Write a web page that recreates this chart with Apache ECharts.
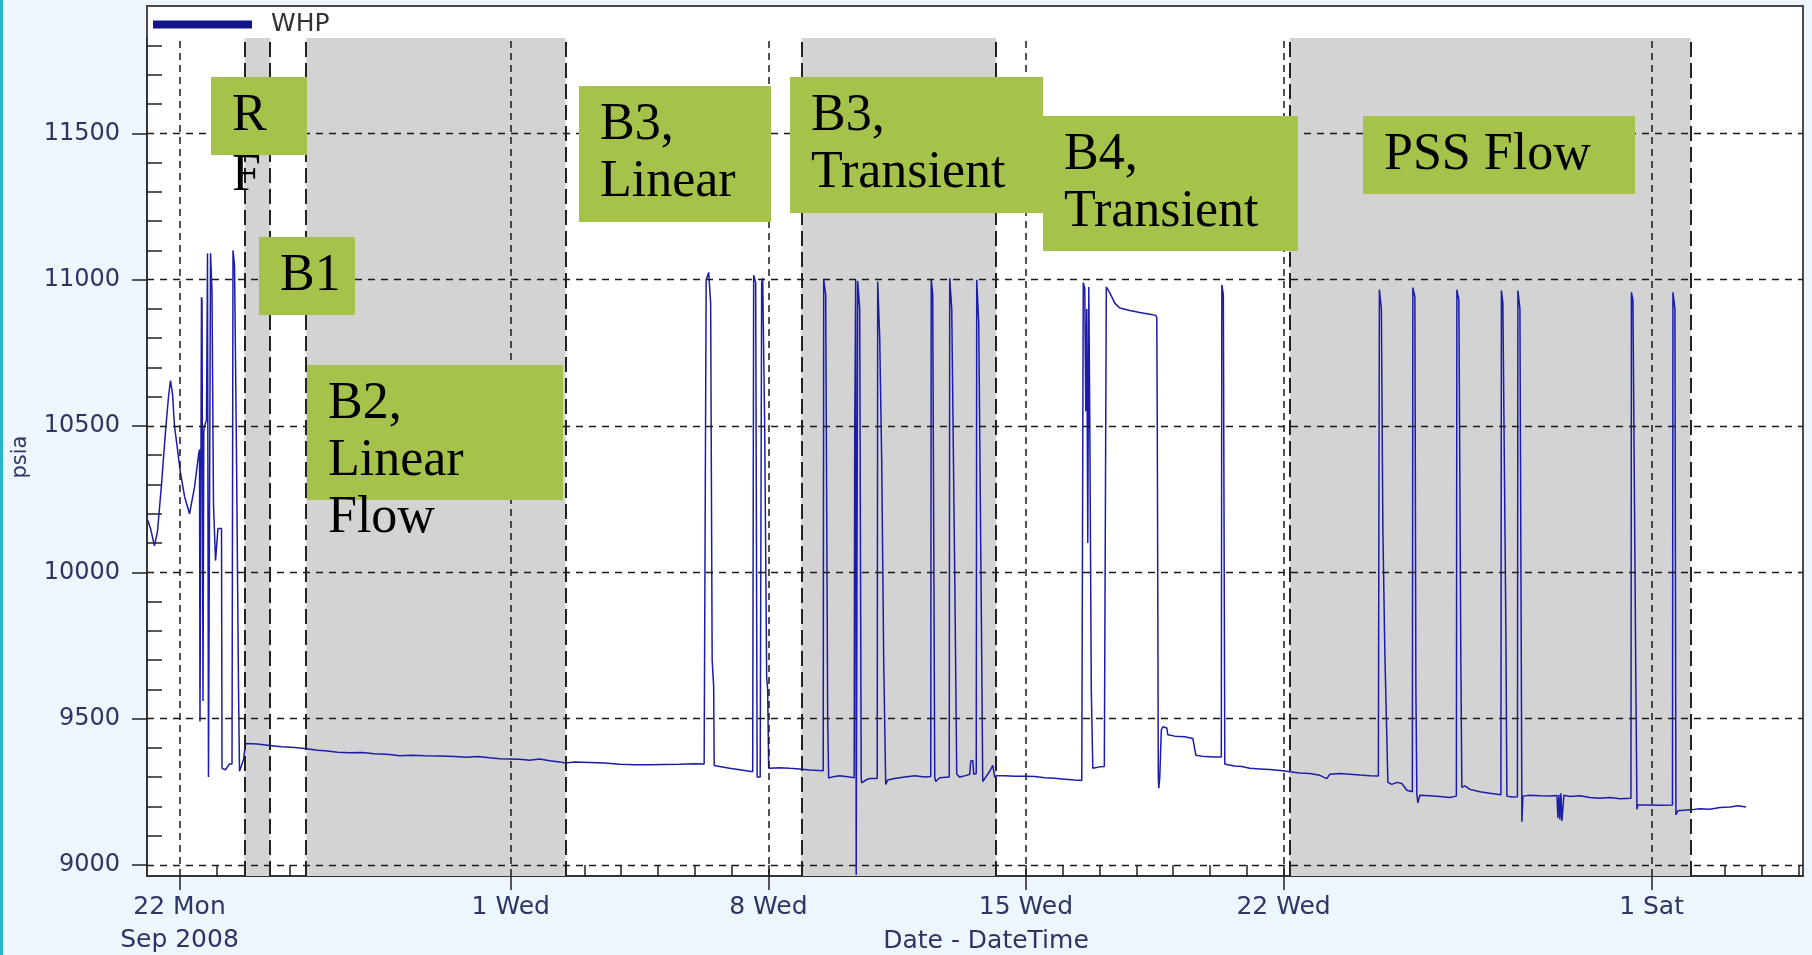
<!DOCTYPE html>
<html><head><meta charset="utf-8">
<script src="https://cdn.jsdelivr.net/npm/echarts@6/dist/echarts.min.js"></script>
<style>html,body{margin:0;padding:0;background:#eef6fd}#c{width:1812px;height:955px}</style>
</head><body><div id="c"></div><script>
// Time is stored as days since 22 Sep 2008 00:00
const BASE = Date.UTC(2008, 8, 22);
const DAY = 86400000;

// WHP (psia) readings: [day, psia]
const whpStartup = [[-0.870,10180],[-0.788,10150],[-0.680,10090],[-0.598,10140],[-0.489,10300],[-0.381,10480],[-0.299,10600],[-0.245,10655],[-0.190,10610],[-0.136,10500],[-0.054,10420],[0.027,10340],[0.136,10260],[0.272,10200],[0.408,10290],[0.516,10400],[0.544,10420],[0.557,9490],[0.584,9490],[0.598,10940],[0.612,10930],[0.639,9560],[0.660,10480],[0.680,10500],[0.734,10520],[0.761,11090],[0.788,9300],[0.829,9300],[0.843,11090],[0.883,10960],[0.924,10230],[0.965,10230],[0.979,10040],[1.033,10040],[1.046,10150],[1.142,10150],[1.155,9330],[1.250,9325],[1.359,9345],[1.427,9345],[1.454,11100],[1.495,11050],[1.549,10400],[1.604,9600],[1.631,9320],[1.685,9320],[1.740,9360],[1.794,9415]];
const whpB2 = [[2.120,9413],[2.446,9408],[2.772,9404],[3.126,9401],[3.398,9398],[3.751,9392],[4.023,9389],[4.295,9385],[4.621,9383],[4.947,9384],[5.300,9380],[5.708,9377],[5.980,9373],[6.306,9375],[6.659,9373],[7.067,9372],[7.475,9370],[7.801,9368],[8.100,9370],[8.426,9366],[8.698,9363],[8.970,9362],[9.242,9361],[9.513,9358],[9.785,9362],[10.057,9356],[10.329,9352],[10.492,9348],[10.736,9352],[11.144,9350],[11.552,9348],[11.960,9344],[12.367,9342],[12.775,9342],[13.183,9343],[13.591,9344],[13.998,9346],[14.256,9345]];
const whpB3Linear = [[14.311,11000],[14.379,11025],[14.433,10920],[14.474,9700],[14.501,9640],[14.515,9610],[14.529,9340],[14.678,9336],[14.950,9330],[15.221,9325],[15.575,9318],[15.602,11015],[15.656,10990],[15.697,9300],[15.779,9300],[15.819,10990],[15.847,11005],[15.901,10500],[15.955,9640],[15.982,9600],[16.010,9330],[16.309,9332],[16.580,9330],[16.852,9328],[17.124,9324],[17.491,9322]];
const whpB3Transient = [[17.505,11000],[17.559,10950],[17.613,9500],[17.640,9297],[17.722,9300],[17.939,9305],[18.211,9300],[18.333,9298],[18.347,10460],[18.374,11000],[18.388,8965],[18.415,8965],[18.429,10995],[18.483,10900],[18.524,9300],[18.537,9280],[18.646,9290],[18.755,9295],[18.959,9295],[18.972,10993],[19.027,10800],[19.081,10380],[19.135,9700],[19.190,9275],[19.244,9290],[19.434,9295],[19.706,9300],[19.978,9305],[20.250,9300],[20.413,9302],[20.427,11000],[20.467,10950],[20.494,10145],[20.522,9300],[20.549,9285],[20.658,9298],[20.916,9300],[20.929,11005],[20.984,10900],[21.065,10000],[21.120,9310],[21.201,9300],[21.364,9305],[21.473,9310],[21.500,9355],[21.555,9357],[21.582,9310],[21.650,9312],[21.663,11000],[21.718,10850],[21.799,9700],[21.826,9285],[21.908,9300],[22.017,9320],[22.098,9340],[22.152,9300],[22.207,9305]];
const whpB4Transient = [[22.424,9305],[22.696,9303],[22.995,9303],[23.240,9302],[23.512,9298],[23.783,9296],[24.055,9293],[24.327,9290],[24.517,9288],[24.544,9285],[24.558,10990],[24.599,10970],[24.626,10550],[24.653,10900],[24.680,10100],[24.708,10975],[24.735,10520],[24.776,9600],[24.817,9330],[24.871,9332],[25.007,9335],[25.130,9336],[25.184,10975],[25.279,10955],[25.414,10920],[25.550,10903],[25.822,10895],[26.094,10888],[26.366,10882],[26.529,10878],[26.556,10870],[26.569,10500],[26.597,9300],[26.610,9262],[26.637,9300],[26.678,9460],[26.719,9472],[26.773,9470],[26.828,9468],[26.855,9445],[27.045,9440],[27.317,9438],[27.534,9432],[27.616,9375],[27.861,9370],[28.132,9369],[28.309,9369],[28.323,10982],[28.364,10950],[28.404,9345],[28.486,9342],[28.676,9338],[28.866,9336],[29.084,9330],[29.356,9328],[29.627,9326],[29.981,9322]];
const whpPSS = [[30.171,9318],[30.443,9314],[30.715,9312],[30.986,9306],[31.177,9295],[31.258,9310],[31.530,9312],[31.802,9310],[32.074,9307],[32.345,9305],[32.576,9304],[32.604,10966],[32.658,10900],[32.699,10145],[32.753,9724],[32.835,9282],[32.943,9275],[33.079,9282],[33.215,9278],[33.351,9255],[33.500,9250],[33.514,10973],[33.569,10940],[33.596,9600],[33.623,9240],[33.650,9212],[33.704,9238],[33.976,9236],[34.248,9234],[34.520,9230],[34.696,9235],[34.710,10966],[34.764,10930],[34.818,9700],[34.845,9265],[34.927,9270],[35.063,9258],[35.335,9250],[35.607,9245],[35.906,9240],[35.920,10963],[35.960,10920],[36.042,9800],[36.069,9235],[36.205,9232],[36.355,9233],[36.368,10963],[36.423,10900],[36.477,9147],[36.504,9235],[36.694,9238],[36.966,9236],[37.238,9235],[37.429,9237],[37.456,9160],[37.483,9240],[37.510,9155],[37.537,9245],[37.564,9150],[37.618,9238],[37.781,9234],[38.053,9236],[38.325,9230],[38.597,9228],[38.869,9230],[39.141,9226],[39.440,9228],[39.453,10957],[39.494,10930],[39.575,9600],[39.603,9190],[39.630,9205],[39.956,9205],[40.228,9204],[40.568,9205],[40.581,10957],[40.635,10900],[40.662,9171],[40.717,9185],[41.043,9188],[41.315,9192],[41.587,9190],[41.859,9196],[42.130,9198],[42.348,9202],[42.565,9198]];

// Axis ticks
const majorTickDays = [0, 9, 16, 23, 30, 40];
const majorTickLabels = ['22 Mon\nSep 2008', '1 Wed', '8 Wed', '15 Wed', '22 Wed', '1 Sat'];
const dailyTickDays = [1,2,3,4,5,6,7,8,9,10,11,12,13,14,15,16,17,18,19,20,21,22,23,24,25,26,27,28,29,30,31,32,33,34,35,36,37,38,39,40,41,42,43,44];
const yLabelTicks = [9000, 9500, 10000, 10500, 11000, 11500];
const yMinorTicks = [9100,9200,9300,9400,9600,9700,9800,9900,10100,10200,10300,10400,10600,10700,10800,10900,11100,11200,11300,11400,11600,11700,11800];
const xRangeDays = [-0.883, 44.115];
const yRange = [8962, 11826];

// Test phases (shaded periods), in days
const phaseBands = [[1.767, 2.465], [3.444, 10.492], [16.899, 22.193], [30.171, 41.063]];
const phaseEdgeDays = [1.767, 2.465, 3.444, 10.492, 16.899, 22.193, 30.171, 41.063];

// Annotation boxes (layout): x, y, w, h, lineHeight
const noteTexts = ['R\nF', 'B1', 'B2,\nLinear\nFlow', 'B3,\nLinear', 'B3,\nTransient', 'B4,\nTransient', 'PSS Flow'];
const noteBoxes = [[211,77,96,78,60],[259,237,96,78,57],[307,365,256,135,57],[579,86,192,136,57],[790,77,253,136,57],[1043,116,255,135,57],[1363,116,272,78,57]];

const ts = d => BASE + d * DAY;
const whpData = [].concat(whpStartup, whpB2, whpB3Linear, whpB3Transient, whpB4Transient, whpPSS).map(p => [ts(p[0]), p[1]]);

const FONT = 'DejaVu Sans';
const LABEL_COLOR = '#2c3563';
const NOTE_SIZE = 52;
const chart = echarts.init(document.getElementById('c'), null, {renderer: 'canvas'});

const graphics = [
  {type: 'rect', z: -5, shape: {x: 0, y: 0, width: 3, height: 955}, style: {fill: '#29b6c8'}},
  {type: 'rect', z: -1, shape: {x: 147, y: 6, width: 1656, height: 870}, style: {fill: '#ffffff', stroke: '#4a4a4a', lineWidth: 2}}
];
noteTexts.forEach((t, i) => {
  const b = noteBoxes[i];
  graphics.push({type: 'rect', z: 20, shape: {x: b[0], y: b[1], width: b[2], height: b[3]}, style: {fill: '#a5c34b'}});
  graphics.push({type: 'text', z: 21, x: b[0] + 21, y: b[1] + 56.5 - b[4] / 2 - 0.3375 * NOTE_SIZE,
    style: {text: t, fill: '#000', fontSize: NOTE_SIZE, fontFamily: 'Liberation Serif', lineHeight: b[4], verticalAlign: 'top', align: 'left'}});
});

const gridLines = [];
yLabelTicks.forEach(v => gridLines.push({yAxis: v, lineStyle: {type: [7, 6], color: '#1a1a1a', width: 1.3}}));
majorTickDays.forEach(d => gridLines.push({xAxis: ts(d), lineStyle: {type: [7, 5], color: '#1a1a1a', width: 1.5}}));
phaseEdgeDays.forEach(d => gridLines.push({xAxis: ts(d), lineStyle: {type: [15, 6], color: '#222', width: 2}}));

const option = {
  animation: false,
  backgroundColor: '#eef6fd',
  textStyle: {fontFamily: FONT},
  graphic: graphics,
  legend: {data: ['WHP'], left: 153, top: 12, padding: 0, icon: 'rect', itemWidth: 99, itemHeight: 8,
    itemStyle: {color: '#14148c'}, textStyle: {fontFamily: FONT, fontSize: 25, color: '#333', padding: [0, 0, 0, 14]}},
  grid: {left: 147, right: 9, top: 38, bottom: 79, containLabel: false, outerBoundsMode: 'none'},
  xAxis: [
    {type: 'value', min: ts(xRangeDays[0]), max: ts(xRangeDays[1]), position: 'bottom',
      axisLine: {show: true, lineStyle: {color: '#333', width: 2}},
      axisTick: {show: true, customValues: majorTickDays.map(ts), inside: false, length: 14, lineStyle: {color: '#222', width: 1.5}},
      axisLabel: {customValues: majorTickDays.map(ts), fontFamily: FONT, fontSize: 25, color: LABEL_COLOR, lineHeight: 33, margin: 15,
        formatter: v => { const i = majorTickDays.findIndex(d => Math.abs(ts(d) - v) < 60000); return i >= 0 ? majorTickLabels[i] : ''; }},
      splitLine: {show: false},
      name: 'Date - DateTime', nameLocation: 'middle', nameGap: 53, nameMoveOverlap: false,
      nameTextStyle: {fontFamily: FONT, fontSize: 25, color: LABEL_COLOR, lineHeight: 25, padding: [0, 0, 0, 22]}},
    {type: 'value', min: ts(xRangeDays[0]), max: ts(xRangeDays[1]), position: 'bottom',
      axisLine: {show: false}, axisLabel: {show: false}, splitLine: {show: false},
      axisTick: {show: true, customValues: dailyTickDays.map(ts), inside: true, length: 11, lineStyle: {color: '#222', width: 1.5}}}
  ],
  yAxis: [
    {type: 'value', min: yRange[0], max: yRange[1], position: 'left',
      axisLine: {show: true, lineStyle: {color: '#333', width: 2}},
      axisTick: {show: true, customValues: yLabelTicks, inside: false, length: 15, lineStyle: {color: '#222', width: 1.5}},
      axisLabel: {customValues: yLabelTicks, fontFamily: FONT, fontSize: 24, color: LABEL_COLOR, margin: 27, formatter: v => String(v)},
      splitLine: {show: false},
      name: 'psia', nameLocation: 'middle', nameGap: 116, nameMoveOverlap: false,
      nameTextStyle: {fontFamily: FONT, fontSize: 21, color: LABEL_COLOR}},
    {type: 'value', min: yRange[0], max: yRange[1], position: 'left',
      axisLine: {show: false}, axisLabel: {show: false}, splitLine: {show: false},
      axisTick: {show: true, customValues: yMinorTicks, inside: true, length: 15, lineStyle: {color: '#222', width: 1.5}}}
  ],
  series: [
    {name: 'phases', type: 'line', data: [], xAxisIndex: 0, yAxisIndex: 0, z: 1, silent: true,
      markArea: {silent: true, itemStyle: {color: '#d3d3d3'},
        data: phaseBands.map(b => [{xAxis: ts(b[0])}, {xAxis: ts(b[1])}])},
      markLine: {silent: true, symbol: ['none', 'none'], label: {show: false}, data: gridLines}},
    {name: 'WHP', type: 'line', data: whpData, xAxisIndex: 0, yAxisIndex: 0, z: 3,
      showSymbol: false, symbol: 'none', sampling: null,
      lineStyle: {color: '#1c1ca8', width: 1.5}, itemStyle: {color: '#14148c'}}
  ]
};
chart.setOption(option);
</script></body></html>
